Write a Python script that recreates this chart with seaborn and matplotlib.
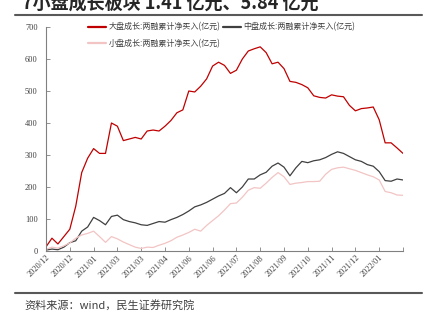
import numpy as np
import pandas as pd
import matplotlib
matplotlib.use("Agg")
import matplotlib.pyplot as plt
from matplotlib.lines import Line2D
import seaborn as sns

# ---- data (trading-day index, every 5 days) ----
days = list(range(0, 301, 5))
large = [13, 40, 22, 45, 68, 140, 245, 290, 320, 305, 305, 400, 390, 345, 350, 355,
         350, 375, 378, 375, 390, 408, 432, 441, 500, 497, 515, 538, 578, 590, 580,
         555, 565, 600, 625, 632, 638, 620, 585, 590, 570, 530, 527, 520, 510, 485,
         480, 478, 488, 484, 482, 455, 438, 445, 447, 450, 410, 338, 338, 322, 305]
mid = [3, 6, 4, 12, 26, 32, 62, 75, 105, 95, 82, 108, 112, 98, 92, 88,
       82, 80, 86, 92, 90, 98, 105, 114, 125, 138, 144, 152, 162, 172, 180,
       198, 182, 200, 225, 225, 238, 246, 265, 275, 262, 235, 260, 280, 276, 282,
       285, 292, 302, 310, 305, 295, 285, 280, 270, 265, 248, 220, 218, 225, 222]
small = [5, 12, 9, 16, 25, 40, 50, 55, 62, 45, 27, 45, 38, 28, 20, 12,
         8, 12, 11, 18, 24, 32, 43, 50, 58, 68, 62, 80, 95, 110, 128,
         148, 150, 168, 190, 198, 196, 212, 230, 245, 232, 208, 212, 214, 217, 217,
         218, 240, 255, 260, 262, 257, 252, 245, 238, 232, 222, 186, 182, 175, 174]

names = ["大盘成长:两融累计净买入(亿元)", "中盘成长:两融累计净买入(亿元)", "小盘成长:两融累计净买入(亿元)"]
colors = ["#C00000", "#404040", "#F2C4C4"]
tick_pos = list(range(0, 301, 20))
tick_labels = ["2020/12", "2020/12", "2021/01", "2021/03", "2021/03", "2021/04", "2021/06",
               "2021/06", "2021/07", "2021/08", "2021/09", "2021/10", "2021/11", "2021/12",
               "2022/01", ""]
title = "7小盘成长板块 1.41 亿元、5.84 亿元"
source = "资料来源：wind，民生证券研究院"

df = pd.concat([
    pd.DataFrame({"day": days, "value": vals, "series": nm})
    for nm, vals in zip(names, [large, mid, small])
])

sns.set_style("ticks")
plt.rcParams["font.family"] = ["Noto Sans CJK SC", "DejaVu Sans"]

fig = plt.figure(figsize=(4.37, 3.26), dpi=100)
ax = fig.add_axes([46/437, 1-251/326, (403-46)/437, (251-27)/326])

sns.lineplot(data=df, x="day", y="value", hue="series", hue_order=names,
             palette=colors, linewidth=0.9, ax=ax, legend=False)

ax.set_xlim(0, 300)
ax.set_ylim(0, 700)
ax.set_xlabel("")
ax.set_ylabel("")
ax.set_yticks(range(0, 701, 100))
ax.set_xticks(tick_pos)
ax.set_xticklabels(tick_labels, rotation=45, ha="right", rotation_mode="anchor")
for lab in ax.get_xticklabels() + ax.get_yticklabels():
    lab.set_family("Liberation Serif")
    lab.set_fontsize(6)
    lab.set_color("#404040")
ax.tick_params(axis="both", direction="in", length=3, width=0.6, color="#808080", pad=2)
ax.tick_params(axis="y", pad=6)
sns.despine(ax=ax)
for s in ["left", "bottom"]:
    ax.spines[s].set_color("#808080")
    ax.spines[s].set_linewidth(0.8)

handles = [Line2D([], [], color=c, lw=1.6) for c in colors]
order = [0, 2, 1]
leg = ax.legend([handles[i] for i in order], [names[i] for i in order], ncol=2,
                loc="upper left", bbox_to_anchor=(0.11, 1.035), frameon=False,
                fontsize=5.8, handlelength=2.2, handletextpad=0.3,
                columnspacing=0.3, labelspacing=0.9, borderaxespad=0)
for t in leg.get_texts():
    t.set_color("#404040")

# title (cropped at top, as in the source image), rules and source
fig.text(22/437, 1-9/326, title, fontsize=13, fontweight="bold", color="#262626",
         ha="left", va="baseline")
fig.add_artist(Line2D([15/437, 422/437], [1-15/326, 1-15/326], color="#595959", lw=1.5,
                      transform=fig.transFigure))
fig.add_artist(Line2D([15/437, 422/437], [1-293/326, 1-293/326], color="#595959", lw=1.5,
                      transform=fig.transFigure))
fig.text(24/437, 1-305/326, source, fontsize=8, color="#404040", ha="left", va="center")

fig.savefig("out.png", dpi=100)
